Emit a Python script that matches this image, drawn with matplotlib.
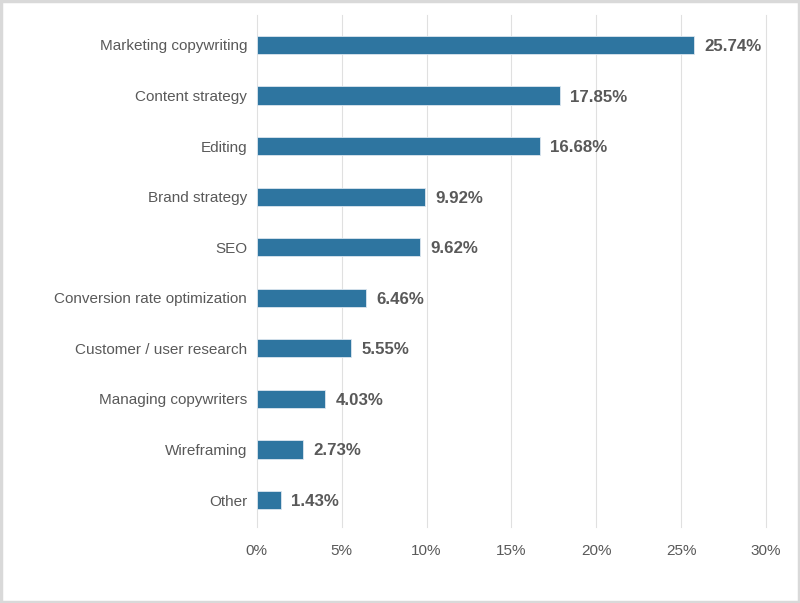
import matplotlib
matplotlib.use("Agg")
import matplotlib.pyplot as plt
from matplotlib.patches import Rectangle

categories = ["Marketing copywriting", "Content strategy", "Editing", "Brand strategy", "SEO",
              "Conversion rate optimization", "Customer / user research", "Managing copywriters",
              "Wireframing", "Other"]
values = [25.74, 17.85, 16.68, 9.92, 9.62, 6.46, 5.55, 4.03, 2.73, 1.43]
xticks = [0, 5, 10, 15, 20, 25, 30]

plt.rcParams['font.family'] = ['Liberation Sans', 'DejaVu Sans']

fig = plt.figure(figsize=(8, 6.03), dpi=100)
ax = fig.add_axes([0.321, 1 - 527 / 603, 0.6365, 512 / 603])

y = list(range(len(categories)))[::-1]
ax.barh(y, values, height=0.36, color="#2E75A0", edgecolor="#dce6ef", linewidth=0.6, zorder=3)
for yi, v in zip(y, values):
    ax.text(v + 0.6, yi - 0.03, f"{v:.2f}%", va="center", ha="left", fontsize=12.2,
            fontweight="bold", color="#595959", zorder=4)

ax.set_xlim(0, 30)
ax.set_ylim(-0.534, 9.593)
ax.set_yticks(y)
ax.set_yticklabels(categories, fontsize=11, color="#595959")
ax.set_xticks(xticks)
ax.set_xticklabels([f"{t}%" for t in xticks], fontsize=11, color="#595959")
ax.tick_params(axis="y", length=0, pad=7)
ax.tick_params(axis="x", length=0, pad=12)
ax.grid(axis="x", color="#e0e0e0", linewidth=0.8, zorder=0)
for gl in ax.get_xgridlines():
    gl.set_clip_on(False)
for s in ax.spines.values():
    s.set_visible(False)

fig.patches.append(Rectangle((0.0012, 0.0017), 0.9976, 0.9966, transform=fig.transFigure,
                             fill=False, edgecolor="#d9d9d9", linewidth=2.5))
fig.savefig("out.png", dpi=100, facecolor="white")
